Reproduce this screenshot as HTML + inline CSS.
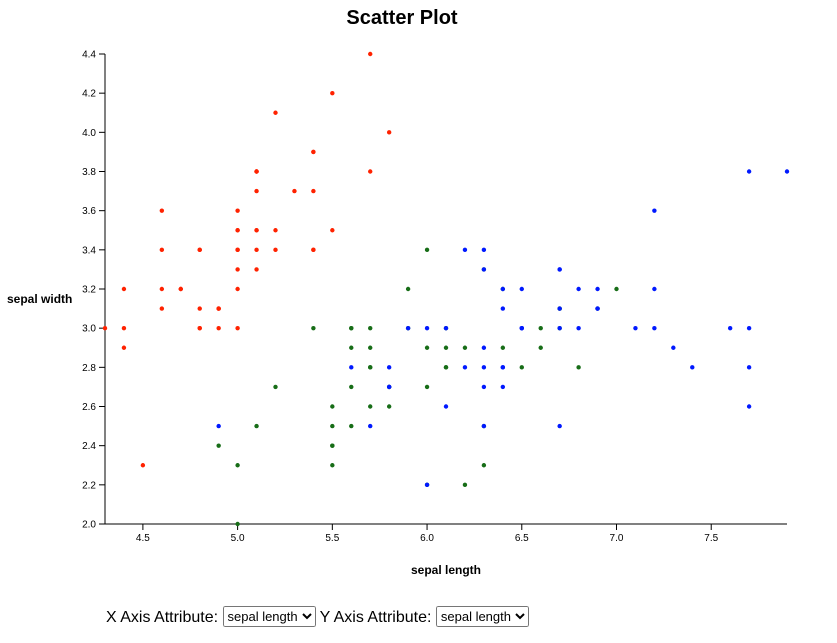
<!DOCTYPE html>
<html><head><meta charset="utf-8"><style>
body{margin:0;width:837px;height:643px;background:#fff;font-family:"Liberation Sans",Arial,sans-serif;position:relative;overflow:hidden}
#controls{position:absolute;left:106px;top:606px;font-size:16px;color:#000;white-space:nowrap}
select{font-family:"Liberation Sans",Arial,sans-serif;font-size:13px;height:21px;vertical-align:1px}
</style></head><body>
<svg id="chart" width="837" height="600" style="position:absolute;left:0;top:0">
<text x="402" y="24" text-anchor="middle" font-size="20" font-weight="bold">Scatter Plot</text>
<text x="446" y="574" text-anchor="middle" font-size="12" font-weight="bold">sepal length</text>
<text x="7" y="303" font-size="12" font-weight="bold">sepal width</text>
<g id="axes"></g><g id="points"></g>
</svg>
<div id="controls">X Axis Attribute: <select><option>sepal length</option><option>sepal width</option><option>petal length</option><option>petal width</option></select> Y Axis Attribute: <select><option>sepal length</option><option>sepal width</option><option>petal length</option><option>petal width</option></select></div>
<script>
const xTicks=[4.5,5.0,5.5,6.0,6.5,7.0,7.5];
const yTicks=[2.0,2.2,2.4,2.6,2.8,3.0,3.2,3.4,3.6,3.8,4.0,4.2,4.4];
const species=["setosa","versicolor","virginica"];
const setosaX=[5.1,4.9,4.7,4.6,5.0,5.4,4.6,5.0,4.4,4.9,5.4,4.8,4.8,4.3,5.8,5.7,5.4,5.1,5.7,5.1,5.4,5.1,4.6,5.1,4.8,5.0,5.0,5.2,5.2,4.7,4.8,5.4,5.2,5.5,4.9,5.0,5.5,4.9,4.4,5.1,5.0,4.5,4.4,5.0,5.1,4.8,5.1,4.6,5.3,5.0];
const setosaY=[3.5,3.0,3.2,3.1,3.6,3.9,3.4,3.4,2.9,3.1,3.7,3.4,3.0,3.0,4.0,4.4,3.9,3.5,3.8,3.8,3.4,3.7,3.6,3.3,3.4,3.0,3.4,3.5,3.4,3.2,3.1,3.4,4.1,4.2,3.1,3.2,3.5,3.1,3.0,3.4,3.5,2.3,3.2,3.5,3.8,3.0,3.8,3.2,3.7,3.3];
const versicolorX=[7.0,6.4,6.9,5.5,6.5,5.7,6.3,4.9,6.6,5.2,5.0,5.9,6.0,6.1,5.6,6.7,5.6,5.8,6.2,5.6,5.9,6.1,6.3,6.1,6.4,6.6,6.8,6.7,6.0,5.7,5.5,5.5,5.8,6.0,5.4,6.0,6.7,6.3,5.6,5.5,5.5,6.1,5.8,5.0,5.6,5.7,5.7,6.2,5.1,5.7];
const versicolorY=[3.2,3.2,3.1,2.3,2.8,2.8,3.3,2.4,2.9,2.7,2.0,3.0,2.2,2.9,2.9,3.1,3.0,2.7,2.2,2.5,3.2,2.8,2.5,2.8,2.9,3.0,2.8,3.0,2.9,2.6,2.4,2.4,2.7,2.7,3.0,3.4,3.1,2.3,3.0,2.5,2.6,3.0,2.6,2.3,2.7,3.0,2.9,2.9,2.5,2.8];
const virginicaX=[6.3,5.8,7.1,6.3,6.5,7.6,4.9,7.3,6.7,7.2,6.5,6.4,6.8,5.7,5.8,6.4,6.5,7.7,7.7,6.0,6.9,5.6,7.7,6.3,6.7,7.2,6.2,6.1,6.4,7.2,7.4,7.9,6.4,6.3,6.1,7.7,6.3,6.4,6.0,6.9,6.7,6.9,5.8,6.8,6.7,6.7,6.3,6.5,6.2,5.9];
const virginicaY=[3.3,2.7,3.0,2.9,3.0,3.0,2.5,2.9,2.5,3.6,3.2,2.7,3.0,2.5,2.8,3.2,3.0,3.8,2.6,2.2,3.2,2.8,2.8,2.7,3.3,3.2,2.8,3.0,2.8,3.0,2.8,3.8,2.8,2.8,2.6,3.0,3.4,3.1,3.0,3.1,3.1,3.1,2.7,3.2,3.3,3.0,2.5,3.0,3.4,3.0];
const colors={setosa:"#ff2200",versicolor:"#176d17",virginica:"#0019ff"};
const X0=105,X1=787,Y0=524,Y1=54,xMin=4.3,xMax=7.9,yMin=2.0,yMax=4.4;
const xs=v=>X0+(v-xMin)/(xMax-xMin)*(X1-X0);
const ys=v=>Y0-(v-yMin)/(yMax-yMin)*(Y0-Y1);
const NS="http://www.w3.org/2000/svg";
const axes=document.getElementById("axes"),pts=document.getElementById("points");
function mk(t,a){const e=document.createElementNS(NS,t);for(const k in a)e.setAttribute(k,a[k]);return e;}
let l=mk("line",{x1:X0,y1:Y0,x2:X1,y2:Y0,stroke:"#000"});


axes.appendChild(l);
l=mk("line",{x1:X0,y1:Y0,x2:X0,y2:Y1,stroke:"#000"});


axes.appendChild(l);
xTicks.forEach(v=>{const x=xs(v);
const t=mk("line",{x1:x,y1:Y0,x2:x,y2:Y0+6,stroke:"#000"});


axes.appendChild(t);
const tx=mk("text",{x:x,y:Y0+17,"text-anchor":"middle","font-size":"10"});tx.textContent=v.toFixed(1);


axes.appendChild(tx);});
yTicks.forEach(v=>{const y=ys(v);
const t=mk("line",{x1:X0-6,y1:y,x2:X0,y2:y,stroke:"#000"});


axes.appendChild(t);
const tx=mk("text",{x:X0-9,y:y+3.5,"text-anchor":"end","font-size":"10"});tx.textContent=v.toFixed(1);


axes.appendChild(tx);});
const data={setosa:[setosaX,setosaY],versicolor:[versicolorX,versicolorY],virginica:[virginicaX,virginicaY]};
species.forEach(s=>{const [dx,dy]=data[s];dx.forEach((v,i)=>{
const c=mk("circle",{cx:xs(v),cy:ys(dy[i]),r:2.2,fill:colors[s]});


pts.appendChild(c);});});
</script>
</body></html>
